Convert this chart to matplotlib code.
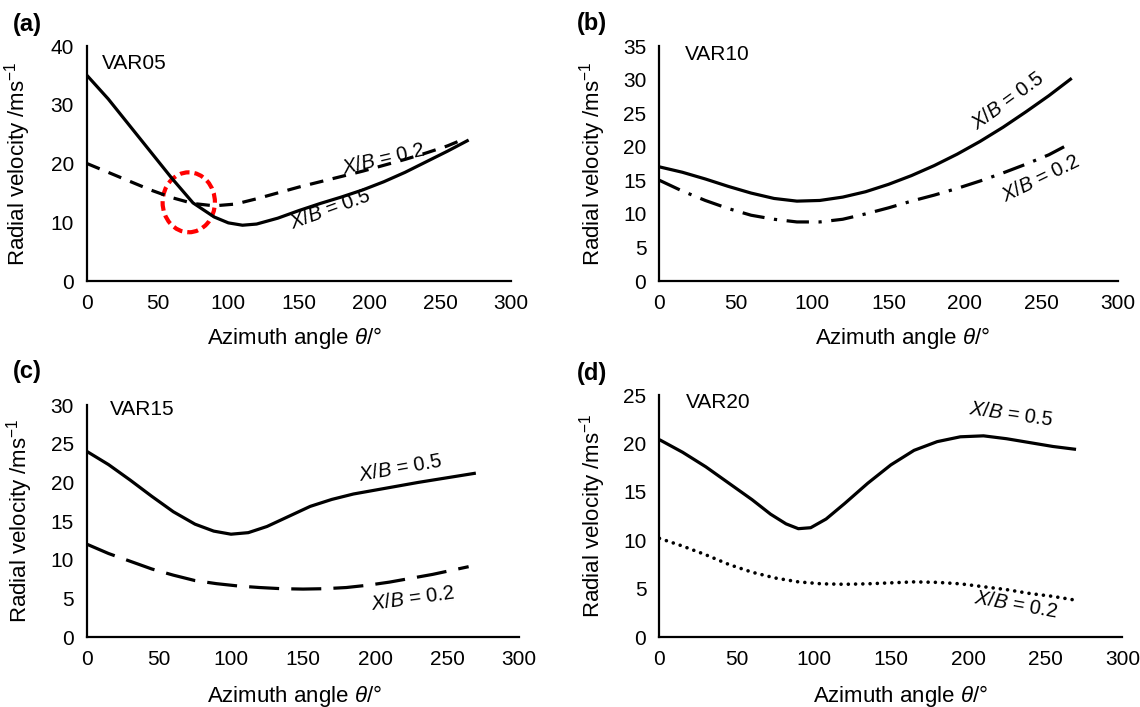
import matplotlib.pyplot as plt
from matplotlib.patches import Ellipse

plt.rcParams["font.family"] = ["Liberation Sans", "DejaVu Sans"]
plt.rcParams["mathtext.fontset"] = "custom"
plt.rcParams["mathtext.rm"] = "Liberation Sans"
plt.rcParams["mathtext.it"] = "Liberation Sans:italic"

# ---------------------------------------------------
# data (azimuth deg, radial velocity m/s)
# ---------------------------------------------------
theta_a05 = [0, 15, 30, 45, 60, 75, 90, 100, 110, 120, 135, 150, 165, 180, 195, 210, 225, 240, 255, 270]
var05_05 = [35, 31, 26.5, 22, 17.5, 13.3, 10.9, 9.9, 9.5, 9.7, 10.7, 12, 13.2, 14.3, 15.5, 16.9, 18.5, 20.3, 22.1, 24]
theta_a02 = [0, 15, 30, 45, 60, 75, 90, 105, 120, 135, 150, 165, 180, 195, 210, 225, 240, 255, 265]
var05_02 = [20, 18.5, 17, 15.5, 14.2, 13.2, 12.8, 13.1, 14, 15, 16, 16.9, 17.8, 18.7, 19.7, 20.7, 21.8, 23, 24]

theta_b05 = [0, 15, 30, 45, 60, 75, 90, 105, 120, 135, 150, 165, 180, 195, 210, 225, 240, 255, 270]
var10_05 = [17, 16.2, 15.2, 14.1, 13.1, 12.3, 11.9, 12, 12.5, 13.3, 14.4, 15.7, 17.2, 18.9, 20.8, 22.9, 25.2, 27.6, 30.2]
theta_b02 = [0, 15, 30, 45, 60, 75, 90, 105, 120, 135, 150, 165, 180, 195, 210, 225, 240, 255, 265]
var10_02 = [15, 13.4, 12, 10.8, 9.8, 9.2, 8.8, 8.8, 9.2, 10, 10.9, 11.9, 12.8, 13.8, 14.9, 16.1, 17.4, 18.8, 20]

theta_c05 = [0, 15, 30, 45, 60, 75, 88, 100, 112, 125, 140, 155, 170, 185, 200, 215, 230, 250, 270]
var15_05 = [24, 22.3, 20.3, 18.2, 16.2, 14.6, 13.7, 13.3, 13.5, 14.3, 15.6, 16.9, 17.8, 18.5, 19.0, 19.5, 20.0, 20.6, 21.2]
theta_c02 = [0, 15, 30, 45, 60, 75, 90, 105, 120, 135, 150, 165, 180, 195, 210, 225, 240, 255, 265]
var15_02 = [12, 10.8, 9.8, 8.8, 8, 7.3, 6.9, 6.6, 6.4, 6.25, 6.2, 6.25, 6.4, 6.7, 7.1, 7.6, 8.1, 8.7, 9.1]

theta_d05 = [0, 15, 30, 45, 60, 72, 82, 90, 98, 108, 120, 135, 150, 165, 180, 195, 210, 225, 240, 255, 270]
var20_05 = [20.4, 19.1, 17.6, 15.9, 14.2, 12.7, 11.7, 11.2, 11.3, 12.2, 13.8, 15.9, 17.8, 19.3, 20.2, 20.7, 20.8, 20.5, 20.1, 19.7, 19.4]
theta_d02 = [0, 15, 30, 45, 60, 75, 90, 105, 120, 135, 150, 165, 180, 195, 210, 225, 240, 255, 270]
var20_02 = [10.2, 9.4, 8.5, 7.5, 6.7, 6.1, 5.7, 5.5, 5.45, 5.5, 5.6, 5.7, 5.65, 5.5, 5.2, 4.9, 4.5, 4.2, 3.8]

panels = ["(a)", "(b)", "(c)", "(d)"]
names = ["VAR05", "VAR10", "VAR15", "VAR20"]
ymax = [40, 35, 30, 25]

fig = plt.figure(figsize=(11.4, 7.07), dpi=100)
boxes = [
    [0.0763, 0.6025, 0.372, 0.3324],
    [0.5785, 0.6025, 0.4018, 0.3324],
    [0.0763, 0.099, 0.379, 0.328],
    [0.5785, 0.099, 0.406, 0.342],
]
axs = [fig.add_axes(b) for b in boxes]

lw = 2.3
kw = dict(color="black", lw=lw, solid_joinstyle="round", solid_capstyle="butt")
a, b, c, d = axs
a.plot(theta_a05, var05_05, **kw)
a.plot(theta_a02, var05_02, dashes=(4.3, 3), **kw)
a.add_patch(Ellipse((72, 13.4), 37, 10.2, fill=False, edgecolor="red", lw=3,
                    linestyle=(0, (2.3, 1.2))))

b.plot(theta_b05, var10_05, **kw)
b.plot(theta_b02, var10_02, dashes=(7, 3, 1, 3), **kw)

c.plot(theta_c05, var15_05, **kw)
c.plot(theta_c02, var15_02, dashes=(9.4, 3.8), **kw)

d.plot(theta_d05, var20_05, **kw)
d.plot(theta_d02, var20_02, color="black", lw=2.6, dashes=(0.01, 2.0), dash_capstyle="round")

# curve labels
lab5 = "$\\it{X/B}$ = 0.5"
lab2 = "$\\it{X/B}$ = 0.2"
fs = 14.5
a.text(210, 20.8, lab2, rotation=13, ha="center", va="center", fontsize=fs)
a.text(172, 12.2, lab5, rotation=20, ha="center", va="center", fontsize=fs)
b.text(228, 26.8, lab5, rotation=36, ha="center", va="center", fontsize=fs)
b.text(250, 15.2, lab2, rotation=26, ha="center", va="center", fontsize=fs)
c.text(218, 21.8, lab5, rotation=10, ha="center", va="center", fontsize=fs)
c.text(226, 5.0, lab2, rotation=8, ha="center", va="center", fontsize=fs)
d.text(228, 23.0, lab5, rotation=-8, ha="center", va="center", fontsize=fs)
d.text(231, 3.3, lab2, rotation=-10, ha="center", va="center", fontsize=fs)

name_x = [0.035, 0.056, 0.053, 0.056]
name_y = [0.924, 0.966, 0.98, 0.97]
xl_x = [0.49, 0.53, 0.48, 0.52]
xl_y = [-0.187, -0.187, -0.198, -0.19]
yl_x = [-0.127, -0.113, -0.12, -0.111]
for i, ax in enumerate(axs):
    ax.set_xlim(0, 300)
    ax.set_ylim(0, ymax[i])
    ax.set_xticks(range(0, 301, 50))
    ax.set_yticks(range(0, ymax[i] + 1, 5 if ymax[i] < 40 else 10))
    for s in ["top", "right"]:
        ax.spines[s].set_visible(False)
    for s in ["left", "bottom"]:
        ax.spines[s].set_linewidth(1.6)
    ax.tick_params(length=0, labelsize=15)
    ax.tick_params(axis="x", pad=9)
    ax.tick_params(axis="y", pad=9.5)
    ax.set_xlabel("Azimuth angle $\\it{θ}$/°", fontsize=16)
    ax.set_ylabel("Radial velocity /ms$^{−1}$", fontsize=16)
    ax.xaxis.set_label_coords(xl_x[i], xl_y[i])
    ax.yaxis.set_label_coords(yl_x[i], 0.5)
    ax.text(name_x[i], name_y[i], names[i], transform=ax.transAxes,
            ha="left", va="center", fontsize=15)

fig.text(0.011, 0.965, panels[0], fontsize=17, fontweight="bold", va="center")
fig.text(0.506, 0.967, panels[1], fontsize=17, fontweight="bold", va="center")
fig.text(0.011, 0.475, panels[2], fontsize=17, fontweight="bold", va="center")
fig.text(0.506, 0.472, panels[3], fontsize=17, fontweight="bold", va="center")

fig.savefig("out.png", dpi=100)
